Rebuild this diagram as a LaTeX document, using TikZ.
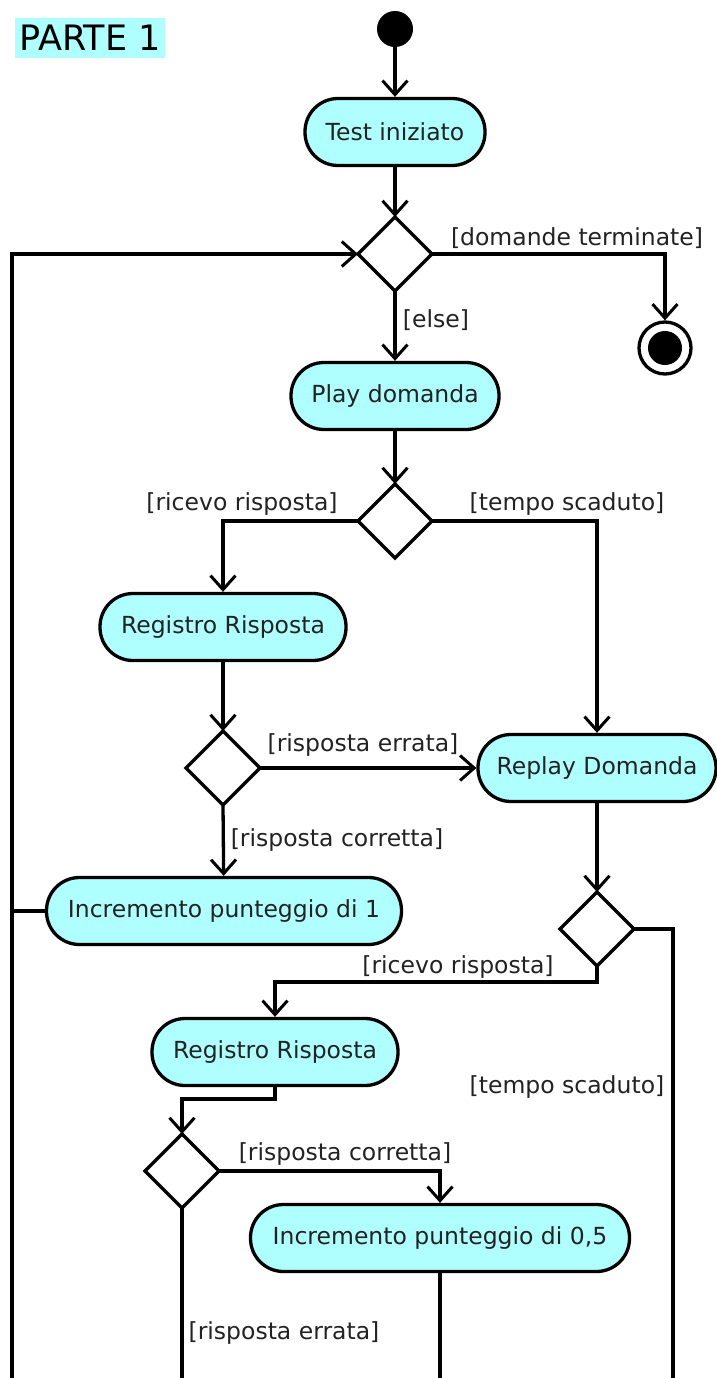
\documentclass[tikz,border=0pt]{standalone}
\usepackage{fontspec}
\setmainfont{DejaVu Sans}
\usetikzlibrary{arrows.meta}
\definecolor{actfill}{HTML}{B0FFFF}
\definecolor{txt}{HTML}{222222}
\tikzset{
  flow/.style={line width=3.3pt, draw=black},
  arr/.style={flow, -{Straight Barb[length=14pt,width=25pt,line width=3pt]}},
  action/.style={draw=black, line width=3.3pt, fill=actfill, rectangle,
    rounded corners=33pt, minimum height=67pt, inner sep=0pt,
    text=txt, font=\fontsize{23.5}{26}\selectfont},
  guard/.style={text=txt, font=\fontsize{23.5}{26}\selectfont, inner sep=0pt}
}
% decision diamond drawn as a path, with named corner coordinates
\newcommand{\decisionat}[3]{% name, x, y
  \coordinate (#1) at (#2,#3);
  \coordinate (#1-n) at (#2,#3-37);
  \coordinate (#1-s) at (#2,#3+37);
  \coordinate (#1-w) at (#2-37,#3);
  \coordinate (#1-e) at (#2+37,#3);
  \draw[line width=3.3pt, fill=white, line join=miter] (#1-n) -- (#1-e) -- (#1-s) -- (#1-w) -- cycle;
}
\begin{document}
\begin{tikzpicture}[x=1pt, y=-1pt]
\useasboundingbox (0,0) rectangle (716,1378);

% title
\node[fill=actfill, inner sep=2pt, text=black, font=\fontsize{35}{38}\selectfont,
      minimum width=150pt, minimum height=40pt] (title) at (90,38) {PARTE 1};

% start and end
\node[circle, fill=black, minimum size=36pt, inner sep=0pt] (start) at (395,29) {};
\node[circle, draw=black, line width=3.3pt, fill=white, minimum size=52pt, inner sep=0pt] (stop) at (665,348) {};
\node[circle, fill=black, minimum size=34pt, inner sep=0pt] (stopin) at (665,348) {};

% actions
\node[action, minimum width=180pt] (test) at (395,132) {Test iniziato};
\node[action, minimum width=208pt] (play) at (395,396) {Play domanda};
\node[action, minimum width=246pt] (reg1) at (223,627) {Registro Risposta};
\node[action, minimum width=238pt] (replay) at (597,768) {Replay Domanda};
\node[action, minimum width=355pt] (inc1) at (224,911) {Incremento punteggio di 1};
\node[action, minimum width=246pt] (reg2) at (275,1052) {Registro Risposta};
\node[action, minimum width=379pt] (inc05) at (440,1238) {Incremento punteggio di 0,5};

% decisions
\decisionat{d1}{395}{254}
\decisionat{d2}{395}{521}
\decisionat{d3}{223}{768}
\decisionat{d4}{597}{929}
\decisionat{d5}{182}{1171}

% connectors
\draw[arr] (start) -- (test);
\draw[arr] (test) -- (d1-n);
\draw[arr] (d1-e) -| (stop);
\draw[arr] (d1-s) -- (play);
\draw[arr] (play) -- (d2-n);
\draw[arr] (d2-w) -| (reg1);
\draw[arr] (d2-e) -| (replay);
\draw[arr] (reg1) -- (d3-n);
\draw[arr] (d3-e) -- (replay);
\draw[arr] (d3-s) -- (inc1);
\draw[arr] (replay) -- (d4-n);

% loop back to the first decision
\coordinate (loopbot) at (12,1378);
\draw[arr] (loopbot) |- (d1-w);
\coordinate (loopjoin) at (12,911);
\draw[flow] (inc1.west) -- (loopjoin);

% second attempt
\coordinate (d4turn) at (597,982);
\draw[arr] (d4-s) -- (d4turn) -| (reg2);
\coordinate (r2turn) at (275,1099);
\draw[arr] (reg2.south) -- (r2turn) -| (d5-n);
\draw[arr] (d5-e) -| (inc05);

% open ends leaving the page
\coordinate (d4out) at (673,1378);
\draw[flow] (d4-e) -| (d4out);
\coordinate (d5out) at (182,1378);
\draw[flow] (d5-s) -- (d5out);
\coordinate (incout) at (440,1378);
\draw[flow] (inc05.south) -- (incout);

% guards
\node[guard] (g1) at (577,238) {[domande terminate]};
\node[guard] (g2) at (436,320) {[else]};
\node[guard] (g3) at (242,504) {[ricevo risposta]};
\node[guard] (g4) at (567,504) {[tempo scaduto]};
\node[guard] (g5) at (363,745) {[risposta errata]};
\node[guard] (g6) at (337,840) {[risposta corretta]};
\node[guard] (g7) at (458,967) {[ricevo risposta]};
\node[guard] (g8) at (567,1087) {[tempo scaduto]};
\node[guard] (g9) at (345,1154) {[risposta corretta]};
\node[guard] (g10) at (284,1333) {[risposta errata]};
\end{tikzpicture}
\end{document}
